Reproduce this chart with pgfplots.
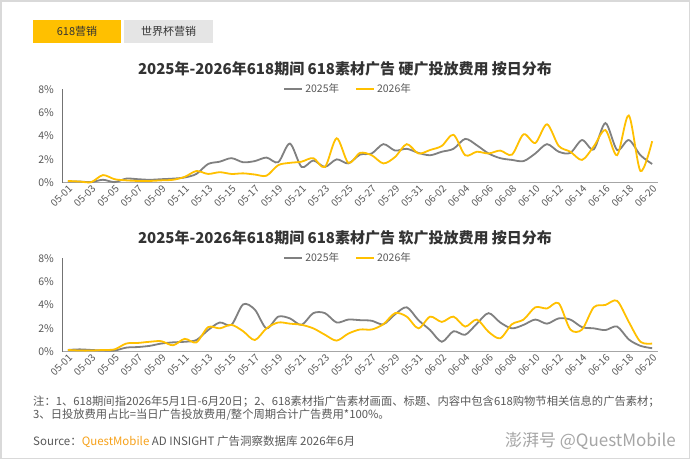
\documentclass[border=0pt]{standalone}
\usepackage{fontspec}
\setmainfont{Noto Sans CJK SC}
\usepackage{pgfplots}
\pgfplotsset{compat=1.18}
\usepackage{pgfplotstable}
\definecolor{qgray}{HTML}{808080}
\definecolor{qyellow}{HTML}{FFC000}
\definecolor{txt}{HTML}{595959}
\definecolor{ttl}{HTML}{333333}
\definecolor{qorange}{HTML}{F7A21B}

\pgfplotstableread{
i a b
0 0.10 0.15
1 0.10 0.10
2 0.05 0.05
3 0.25 0.65
4 0.05 0.30
5 0.35 0.20
6 0.30 0.15
7 0.25 0.15
8 0.30 0.20
9 0.35 0.25
10 0.45 0.50
11 0.75 1.00
12 1.60 0.75
13 1.80 0.90
14 2.10 0.75
15 1.75 0.80
16 1.85 0.70
17 2.15 0.60
18 1.75 1.50
19 3.35 1.70
20 1.35 1.80
21 1.90 2.10
22 1.35 1.35
23 2.00 3.80
24 1.65 1.70
25 2.40 2.55
26 2.50 2.35
27 3.30 1.65
28 2.75 2.20
29 2.90 3.30
30 2.55 2.50
31 2.35 2.80
32 2.65 3.15
33 2.90 4.10
34 3.75 2.35
35 3.20 2.65
36 2.50 2.50
37 2.10 2.75
38 1.95 2.40
39 1.85 4.15
40 2.50 3.40
41 3.30 5.00
42 2.65 3.15
43 2.55 2.65
44 3.65 1.95
45 2.85 3.10
46 5.10 4.50
47 2.80 2.35
48 3.65 5.75
49 2.35 1.00
50 1.60 3.55
}\hardtab

\pgfplotstableread{
i a b
0 0.15 0.15
1 0.20 0.10
2 0.15 0.10
3 0.10 0.15
4 0.10 0.20
5 0.35 0.70
6 0.40 0.75
7 0.50 0.85
8 0.70 0.90
9 0.80 0.55
10 0.85 1.10
11 1.00 0.80
12 1.85 2.10
13 2.50 2.00
14 2.30 2.30
15 4.05 1.75
16 3.60 1.00
17 2.00 2.00
18 3.00 2.50
19 2.85 2.40
20 2.30 2.30
21 3.30 2.00
22 3.30 1.45
23 2.50 0.95
24 2.75 1.55
25 2.70 1.90
26 2.65 1.90
27 2.35 2.35
28 3.20 3.30
29 3.80 3.00
30 2.70 2.00
31 1.85 3.00
32 0.85 2.55
33 1.75 3.00
34 1.45 2.15
35 2.40 2.75
36 3.30 1.70
37 2.50 1.15
38 2.00 2.35
39 2.30 2.75
40 2.75 3.80
41 2.40 3.70
42 2.85 4.15
43 2.75 1.90
44 2.10 1.90
45 2.00 3.80
46 1.85 4.00
47 2.15 4.35
48 1.05 2.55
49 0.50 0.85
50 0.30 0.70
}\softtab

\pgfplotsset{
  qstyle/.style={
    scale only axis, width=596pt, height=93.5pt,
    xmin=-0.5, xmax=50.5, ymin=0, ymax=8,
    axis x line*=bottom, axis y line*=left,
    x axis line style={-, draw=black!35, line width=1.3pt},
    y axis line style={-, draw=black!55, line width=0.6pt},
    xtick={0,2,...,50},
    xticklabels={05-01,05-03,05-05,05-07,05-09,05-11,05-13,05-15,05-17,05-19,05-21,05-23,05-25,05-27,05-29,05-31,06-02,06-04,06-06,06-08,06-10,06-12,06-14,06-16,06-18,06-20},
    ytick={0,2,4,6,8},
    yticklabels={0\%,2\%,4\%,6\%,8\%},
    major tick length=0pt, tick style={draw=none},
    xticklabel style={rotate=45, anchor=north east, inner sep=1pt, font=\fontsize{10}{11}\selectfont, text=txt},
    yticklabel style={font=\fontsize{10.5}{12}\selectfont, text=txt, inner sep=2pt, xshift=-6pt},
    /pgf/number format/assume math mode=true,
    legend style={at={(0.48,1.0)}, anchor=center, draw=none, fill=none,
      legend columns=2, font=\fontsize{10.5}{12}\selectfont, text=txt,
      /tikz/every even column/.append style={column sep=14pt},
      inner sep=0pt},
    legend image code/.code={\draw[#1, line width=2pt] (0pt,0pt) -- (18pt,0pt);},
    clip=false,
  },
  line25/.style={qgray, line width=1.8pt, smooth},
  line26/.style={qyellow, line width=1.8pt, smooth},
}

\begin{document}
\begin{tikzpicture}
\path[use as bounding box] (0pt,0pt) rectangle (690pt,-459pt);
\fill[white] (0pt,0pt) rectangle (690pt,-459pt);
\draw[black!15, line width=1.5pt] (0.75pt,-0.75pt) rectangle (689.25pt,-458.25pt);

% tabs
\fill[qyellow] (33pt,-20pt) rectangle (121pt,-43pt);
\node[text=ttl, font=\fontsize{11}{12}\selectfont] at (77pt,-31.5pt) {618营销};
\fill[black!10] (124pt,-20pt) rectangle (213pt,-43pt);
\node[text=ttl, font=\fontsize{11}{12}\selectfont] at (168.5pt,-31.5pt) {世界杯营销};

% titles
\node[text=ttl, font=\fontsize{15}{17}\selectfont\bfseries] at (345pt,-69pt) {2025年-2026年618期间 618素材广告 硬广投放费用 按日分布};
\node[text=ttl, font=\fontsize{15}{17}\selectfont\bfseries] at (345pt,-238pt) {2025年-2026年618期间 618素材广告 软广投放费用 按日分布};

\begin{axis}[qstyle, at={(62pt,-182.7pt)}, anchor=south west]
\addplot[line25] table[x=i, y=a] {\hardtab};
\addplot[line26] table[x=i, y=b] {\hardtab};
\legend{2025年,2026年}
\end{axis}

\begin{axis}[qstyle, at={(62pt,-351.7pt)}, anchor=south west]
\addplot[line25] table[x=i, y=a] {\softtab};
\addplot[line26] table[x=i, y=b] {\softtab};
\legend{2025年,2026年}
\end{axis}

% notes
\node[anchor=west, text=txt, font=\fontsize{11.3}{12}\selectfont, inner sep=0pt] at (33pt,-402pt) {注：1、618期间指2026年5月1日-6月20日；2、618素材指广告素材画面、标题、内容中包含618购物节相关信息的广告素材；};
\node[anchor=west, text=txt, font=\fontsize{11.3}{12}\selectfont, inner sep=0pt] at (33pt,-414.5pt) {3、日投放费用占比=当日广告投放费用/整个周期合计广告费用*100\%。};
\node[anchor=west, text=txt, font=\fontsize{11.5}{12}\selectfont, inner sep=0pt] at (33pt,-441.5pt) {Source：\textcolor{qorange}{QuestMobile} AD INSIGHT 广告洞察数据库 2026年6月};
\node[anchor=east, text=black!35, font=\fontsize{17}{19}\selectfont, inner sep=0pt] at (676pt,-441pt) {澎湃号 @QuestMobile};
\end{tikzpicture}
\end{document}
